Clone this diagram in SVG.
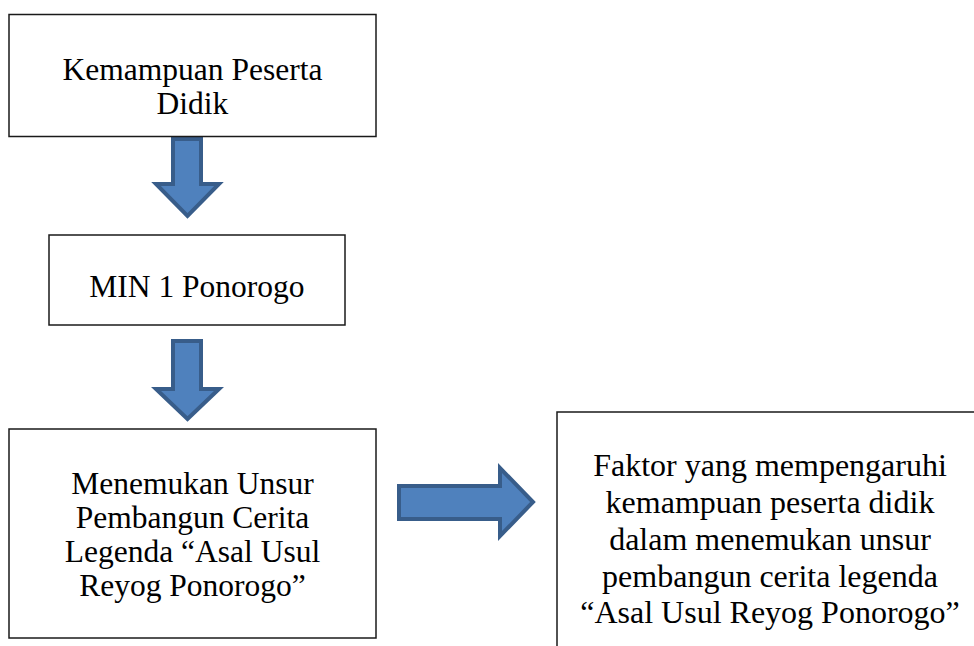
<svg xmlns="http://www.w3.org/2000/svg" width="974" height="646" viewBox="0 0 974 646">
<style>
.box{fill:#ffffff;stroke:#1a1a1a;stroke-width:1.5}
.arrow{fill:#4f81bd;stroke:#385d8a;stroke-width:4;stroke-linejoin:miter}
.t{font-family:"Liberation Serif","Times New Roman",serif;font-size:31.5px;fill:#000;text-anchor:middle}
.f{font-size:32px}
</style>
<rect width="974" height="646" fill="#ffffff"/>
<g id="connectors">
<path class="arrow" d="M173,139 L201,139 L201,184 L219,184 L187.5,216 L156,184 L173,184 Z"/>
<path class="arrow" d="M173,341 L201,341 L201,389 L219,389 L187.5,419 L156,389 L173,389 Z"/>
<path class="arrow" d="M399,486 L500,486 L500,468 L533,502 L500,536 L500,519 L399,519 Z"/>
</g>
<g id="node-kemampuan">
<rect class="box" x="9" y="14.5" width="367" height="122"/>
<text class="t" x="192.5" y="80">Kemampuan Peserta</text>
<text class="t" x="192.5" y="114">Didik</text>
</g>
<g id="node-min">
<rect class="box" x="49" y="235" width="296" height="90"/>
<text class="t" x="197" y="297">MIN 1 Ponorogo</text>
</g>
<g id="node-menemukan">
<rect class="box" x="9" y="429" width="367" height="209"/>
<text class="t" x="192.5" y="494">Menemukan Unsur</text>
<text class="t" x="192.5" y="528">Pembangun Cerita</text>
<text class="t" x="192.5" y="562">Legenda “Asal Usul</text>
<text class="t" x="192.5" y="596">Reyog Ponorogo”</text>
</g>
<g id="node-faktor">
<rect class="box" x="557" y="412" width="422" height="250"/>
<text class="t f" x="770" y="476">Faktor yang mempengaruhi</text>
<text class="t f" x="770" y="513">kemampuan peserta didik</text>
<text class="t f" x="770" y="550">dalam menemukan unsur</text>
<text class="t f" x="770" y="587">pembangun cerita legenda</text>
<text class="t f" x="770" y="623">“Asal Usul Reyog Ponorogo”</text>
</g>
</svg>
